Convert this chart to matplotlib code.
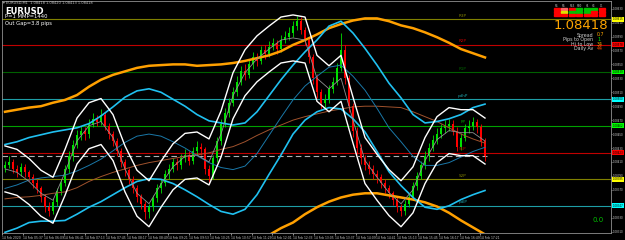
import numpy as np
import matplotlib.pyplot as plt
from matplotlib.transforms import blended_transform_factory

symbol = "EURUSD"
bid = 1.08418
first_open = 108402

# candles in points (1e-5)
closes = [108406,108410,108400,108395,108403,108396,108388,108380,108372,108360,
          108345,108340,108352,108368,108380,108400,108418,108435,108448,108455,
          108450,108465,108472,108468,108478,108462,108450,108440,108425,108410,
          108398,108385,108372,108360,108350,108338,108345,108358,108372,108380,
          108392,108400,108410,108405,108415,108420,108412,108425,108432,108428,
          108400,108390,108415,108440,108465,108480,108495,108510,108525,108540,
          108535,108550,108560,108555,108570,108565,108575,108580,108572,108585,
          108590,108595,108605,108612,108600,108585,108560,108530,108510,108495,
          108500,108515,108525,108545,108570,108530,108490,108455,108430,108415,
          108405,108400,108392,108388,108380,108372,108365,108355,108345,108340,
          108350,108360,108375,108390,108405,108418,108430,108442,108450,108458,
          108462,108465,108455,108432,108445,108458,108462,108468,108460,108440,
          108418]
highs = [108412,108418,108414,108405,108409,108407,108399,108392,108385,108375,
         108364,108352,108358,108373,108386,108406,108425,108441,108456,108462,
         108460,108472,108480,108477,108486,108482,108466,108455,108444,108430,
         108414,108402,108390,108377,108364,108354,108350,108363,108378,108386,
         108398,108407,108416,108415,108421,108428,108425,108431,108440,108437,
         108432,108405,108420,108446,108472,108488,108502,108518,108533,108548,
         108550,108558,108568,108566,108577,108578,108583,108588,108585,108592,
         108598,108604,108612,108620,108618,108604,108590,108565,108536,108515,
         108507,108521,108532,108552,108595,108578,108535,108495,108460,108436,
         108420,108412,108406,108398,108393,108385,108377,108369,108360,108350,
         108356,108366,108381,108396,108411,108425,108437,108449,108458,108465,
         108470,108472,108470,108460,108451,108464,108470,108474,108472,108464,
         108445]
lows = [108396,108401,108394,108388,108390,108389,108382,108372,108366,108352,
        108338,108332,108335,108347,108362,108375,108394,108412,108430,108441,
        108442,108445,108460,108461,108463,108456,108443,108433,108418,108403,
        108390,108378,108365,108352,108342,108328,108330,108340,108353,108366,
        108375,108386,108395,108398,108400,108410,108405,108407,108420,108420,
        108393,108380,108386,108410,108435,108460,108474,108490,108505,108520,
        108528,108530,108544,108548,108550,108558,108560,108570,108565,108568,
        108580,108585,108590,108600,108594,108578,108552,108522,108502,108486,
        108488,108495,108509,108520,108540,108522,108482,108446,108422,108407,
        108398,108392,108385,108380,108373,108365,108358,108348,108338,108332,
        108334,108345,108355,108370,108385,108400,108412,108425,108436,108445,
        108452,108455,108448,108425,108427,108440,108452,108456,108452,108433,
        108412]

# indicators, one value every 3 bars
tma_up = [108433,108428,108415,108398,108388,108428,108473,108495,108501,108478,
          108433,108398,108383,108411,108436,108451,108453,108443,108483,108538,
          108571,108591,108605,108618,108621,108618,108563,108548,108563,108503,
          108445,108421,108399,108383,108403,108445,108475,108488,108485,108485,
          108473]
tma_mid = [108400,108395,108382,108365,108355,108395,108440,108462,108468,108445,
           108400,108365,108350,108378,108403,108418,108420,108410,108450,108505,
           108538,108558,108572,108585,108588,108585,108530,108515,108530,108470,
           108412,108388,108366,108350,108370,108412,108442,108455,108452,108452,
           108440]
tma_dn = [108367,108362,108349,108332,108322,108362,108407,108429,108435,108412,
          108367,108332,108317,108345,108370,108385,108387,108377,108417,108472,
          108505,108525,108539,108552,108555,108552,108497,108482,108497,108437,
          108379,108355,108333,108317,108337,108379,108409,108422,108419,108419,
          108407]
bb_up = [108435,108439,108445,108449,108453,108456,108459,108465,108476,108489,
         108503,108512,108515,108510,108500,108490,108478,108469,108466,108463,
         108466,108482,108505,108528,108549,108568,108585,108605,108612,108595,
         108573,108549,108523,108502,108478,108466,108468,108472,108478,108488,
         108493]
bb_mid = [108372,108377,108384,108387,108389,108391,108397,108405,108414,108426,
          108438,108447,108450,108447,108439,108430,108419,108409,108402,108399,
          108404,108422,108448,108474,108499,108519,108533,108546,108549,108533,
          108513,108487,108459,108439,108418,108405,108405,108409,108417,108425,
          108431]
bb_dn = [108309,108315,108323,108325,108325,108326,108335,108345,108353,108363,
         108373,108382,108386,108385,108379,108370,108360,108349,108339,108335,
         108342,108363,108392,108420,108450,108470,108482,108488,108486,108472,
         108453,108425,108396,108376,108359,108345,108342,108347,108356,108363,
         108369]
env_up = [108482,108485,108488,108490,108495,108499,108506,108518,108528,108535,
          108540,108545,108548,108549,108550,108550,108548,108549,108550,108552,
          108555,108559,108563,108569,108578,108585,108593,108602,108608,108613,
          108616,108616,108612,108606,108602,108596,108589,108581,108572,108566,
          108560]
env_mid = [108357,108359,108360,108362,108365,108367,108373,108382,108389,108395,
           108400,108405,108409,108412,108415,108418,108420,108423,108428,108432,
           108439,108448,108456,108463,108470,108475,108479,108483,108486,108489,
           108490,108490,108489,108488,108482,108475,108468,108459,108450,108443,
           108437]
env_dn = [108280,108282,108284,108285,108284,108282,108280,108278,108276,108275,
          108276,108278,108280,108283,108286,108288,108290,108292,108294,108296,
          108298,108302,108305,108315,108323,108335,108345,108353,108359,108363,
          108365,108365,108362,108359,108356,108352,108346,108337,108326,108316,
          108306]

levels = [1.08615, 1.08578, 1.08539, 1.08500, 1.08462, 1.08423, 1.08385, 1.08347]
level_colors = ['#808000', '#c00000', '#006000', '#1e9ea6', '#00a000', '#c00000', '#808000', '#1e9ea6']
level_box = ['#ffff00', '#ff0000', '#00ff00', '#00ffff', '#00ff00', '#ff0000', '#ffff00', '#00ffff']
level_names = ['R3P', 'R2P', 'R1P', 'pdhP', 'PP', 'S1P', 'S2P', 'pdlP']

time_labels = ["14 Feb 2020", "14 Feb 05:37", "14 Feb 06:09", "14 Feb 06:41", "14 Feb 07:13",
               "14 Feb 07:45", "14 Feb 08:17", "14 Feb 08:49", "14 Feb 09:21", "14 Feb 09:53",
               "14 Feb 10:25", "14 Feb 10:57", "14 Feb 11:29", "14 Feb 12:01", "14 Feb 12:33",
               "14 Feb 13:05", "14 Feb 13:37", "14 Feb 14:09", "14 Feb 14:41", "14 Feb 15:13",
               "14 Feb 15:45", "14 Feb 16:17", "14 Feb 16:49", "14 Feb 17:21"]

tf_names = ["M1", "M5", "M15", "M30", "H1", "H4", "D1"]
tf_rows = [['#ff0000', '#ff6060', '#ff0000', '#00c000', '#00c000', '#00c000', '#ff0000'],
           ['#ff0000', '#e0e000', '#00c000', '#00c000', '#00c000', '#ff0000', '#ff0000'],
           ['#ff0000', '#ff0000', '#ff0000', '#ff0000', '#ff0000', '#ff0000', '#ff0000']]

info = [("Spread", "0.7", '#ffa500'), ("Pips to Open", "1", '#00ff00'),
        ("Hi to Low", "34", '#ffa500'), ("Daily Av", "44", '#ff5000')]

c = np.array(closes) / 1e5
h = np.array(highs) / 1e5
l = np.array(lows) / 1e5
o = np.array([first_open] + closes[:-1]) / 1e5
x = np.arange(len(c))
xi = x[::3]

W, H = 625, 240
fig = plt.figure(figsize=(W / 100, H / 100), dpi=100, facecolor='black')
ax = fig.add_axes([2 / W, 7 / H, 609 / W, 232 / H], facecolor='black')

for lev, col in zip(levels, level_colors):
    ax.axhline(lev, color=col, lw=0.8, zorder=1)
ax.plot([-0.75, x[-1] + 0.5], [bid, bid], color='#b0b0b0', lw=0.8, ls=(0, (5, 3)), zorder=2)

up = c >= o
cols = np.where(up, '#00e000', '#ff0000')
ax.vlines(x, l, h, colors=cols, lw=0.6, zorder=3)
body = np.maximum(np.abs(c - o), 0.000008)
ax.bar(x, body, bottom=np.minimum(o, c), width=0.4, color=cols, zorder=3)

ax.plot(xi, np.array(env_up) / 1e5, color='#ffa000', lw=1.8, zorder=4)
ax.plot(xi, np.array(env_dn) / 1e5, color='#ffa000', lw=1.8, zorder=4)
ax.plot(xi, np.array(env_mid) / 1e5, color='#a0522d', lw=0.7, zorder=4)
ax.plot(xi, np.array(bb_up) / 1e5, color='#20c0f0', lw=1.2, zorder=4)
ax.plot(xi, np.array(bb_dn) / 1e5, color='#20c0f0', lw=1.2, zorder=4)
ax.plot(xi, np.array(bb_mid) / 1e5, color='#1a78a8', lw=0.7, zorder=4)
ax.plot(xi, np.array(tma_up) / 1e5, color='white', lw=1.0, zorder=5)
ax.plot(xi, np.array(tma_dn) / 1e5, color='white', lw=1.0, zorder=5)
ax.plot(xi, np.array(tma_mid) / 1e5, color='#909090', lw=0.6, zorder=5)

ax.set_xlim(-0.75, 151.5)
ax.set_ylim(1.08308, 1.08641)

# price scale on the right, labels hidden where a level box sits on them
ax.yaxis.tick_right()
yt = np.arange(1.0831, 1.08635, 0.0002)
ax.set_yticks(yt)
ax.set_yticklabels(["" if min(abs(v - lv) for lv in levels) < 0.00003 else f"{v:.5f}" for v in yt])
ax.tick_params(axis='y', colors='#c8c8c8', labelsize=1.9, length=0.8, width=0.5, pad=0.3)
ax.set_xticks([-0.75 + 5.2 * k for k in range(len(time_labels))])
ax.set_xticklabels(time_labels, ha='left')
ax.tick_params(axis='x', colors='#c8c8c8', labelsize=2.2, length=1.5, width=0.5, pad=0.8)
for s in ax.spines.values():
    s.set_color('#909090')
    s.set_linewidth(0.6)

tr = blended_transform_factory(ax.transAxes, ax.transData)
for lev, bc, col, name in zip(levels, level_box, level_colors, level_names):
    ax.text(1.0025, lev, f"{lev:.5f}", transform=tr, fontsize=1.9, color='black', va='center',
            ha='left', clip_on=False, zorder=10,
            bbox=dict(boxstyle='square,pad=0.15', fc=bc, ec='none'))
    ax.text(114.5, lev + 0.00002, name, fontsize=3, color=col, ha='center', va='bottom', zorder=6)

# top-left labels
fig.text(3 / W, 1 - 3 / H, "\u25be EURUSD,M1  1.08418 1.08420 1.08413 1.08418", fontsize=2.6,
         color='#c0c0c0', va='center')
fig.text(5 / W, 1 - 11 / H, symbol, fontsize=6, fontweight='bold', color='white', va='center')
fig.text(5 / W, 1 - 17 / H, "P=1 MMP=1440", fontsize=3.8, color='white', va='center')
fig.text(5 / W, 1 - 23 / H, "Out Gap=3.8 pips", fontsize=3.8, color='white', va='center')

# top-right panel
col_x = [557, 564, 572, 579, 587, 594, 602]
for cx, name in zip(col_x, tf_names):
    fig.text(cx / W, 1 - 6 / H, name, fontsize=1.8, color='#c0c0c0', ha='center', va='center')
for r, row in enumerate(tf_rows):
    for cx, colr in zip(col_x, row):
        fig.patches.append(plt.Rectangle(((cx - 3) / W, 1 - (10 + 3 * r) / H), 6 / W, 2 / H,
                                         transform=fig.transFigure, color=colr))
fig.text(608 / W, 1 - 25.5 / H, f"{bid:.5f}", fontsize=9.5, color='#ffa500', ha='right', va='center')
for k, (lab, val, colr) in enumerate(info):
    yy = 1 - (35 + 4.6 * k) / H
    fig.text(593 / W, yy, lab, fontsize=3.4, color='#d0d0d0', ha='right', va='center')
    fig.text(597 / W, yy, val, fontsize=3.4, color=colr, ha='left', va='center')
fig.text(598 / W, 1 - 220 / H, "0.0", fontsize=5, color='#00c000', ha='center', va='center')

fig.savefig("out.png", dpi=100, facecolor='black')
